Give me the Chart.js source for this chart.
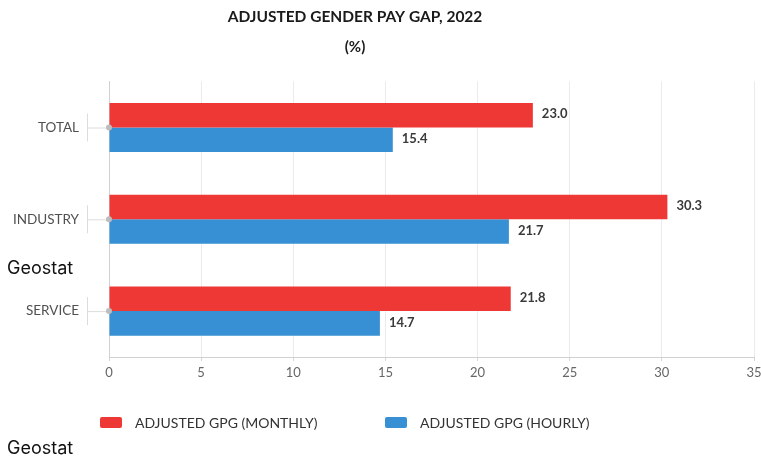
<!DOCTYPE html>
<html>
<head>
<meta charset="utf-8">
<script src="https://cdn.jsdelivr.net/npm/chart.js@4.4.1/dist/chart.umd.min.js"></script>
<style>
  html, body { margin: 0; padding: 0; background: #fff; }
  .wrap { position: relative; width: 761px; height: 462px; }
  #gpg-chart { position: absolute; left: 0; top: 0; }
  .note { position: absolute; font-family: Inter, sans-serif; font-size: 18px; color: #111; }
  #legend { position: absolute; top: 414px; left: 0; width: 761px; height: 16px; font-family: Lato, sans-serif; font-size: 14px; color: #333; }
  #legend .item { position: absolute; top: 0; display: flex; align-items: center; height: 16px; }
  #legend .box { width: 22px; height: 11px; border-radius: 2px; margin-right: 13px; }
</style>
</head>
<body>
<div class="wrap">
  <canvas id="gpg-chart" width="761" height="462"></canvas>
  <div id="legend"></div>
  <div class="note" style="left:7px; top:257px;">Geostat</div>
  <div class="note" style="left:7px; top:437px;">Geostat</div>
</div>
<script>
// data
const categories = ['TOTAL', 'INDUSTRY', 'SERVICE'];
const monthlyGap = [23.0, 30.3, 21.8];
const hourlyGap = [15.4, 21.7, 14.7];
const seriesNames = ['ADJUSTED GPG (MONTHLY)', 'ADJUSTED GPG (HOURLY)'];
const seriesColors = ['#ee3835', '#3690d3'];

// value labels at the end of each bar
const barLabels = {
    id: 'barLabels',
    afterDatasetsDraw(chart) {
        const ctx = chart.ctx;
        ctx.save();
        ctx.font = 'bold 13px Lato';
        ctx.fillStyle = '#3a3a3a';
        ctx.textBaseline = 'middle';
        ctx.textAlign = 'left';
        chart.data.datasets.forEach((ds, i) => {
            chart.getDatasetMeta(i).data.forEach((bar, j) => {
                ctx.fillText(ds.data[j].toFixed(1), bar.x + 9, bar.y - 1);
            });
        });
        ctx.restore();
    }
};

// little bracket + dot on the y axis for each category
const yTicks = {
    id: 'yTicks',
    afterDraw(chart) {
        const ctx = chart.ctx;
        const y = chart.scales.y;
        const left = chart.chartArea.left;
        ctx.save();
        y.ticks.forEach((t, i) => {
            const py = y.getPixelForTick(i);
            ctx.strokeStyle = '#dcdcdc';
            ctx.lineWidth = 1;
            ctx.beginPath();
            ctx.moveTo(87.5, py - 14);
            ctx.lineTo(87.5, py + 14);
            ctx.moveTo(87.5, py + 0.5);
            ctx.lineTo(left, py + 0.5);
            ctx.stroke();
            ctx.fillStyle = '#bdbdbd';
            ctx.beginPath();
            ctx.arc(left, py, 3, 0, Math.PI * 2);
            ctx.fill();
        });
        ctx.restore();
    }
};

// the original title sits a bit left of the canvas centre
const shiftTitle = {
    id: 'shiftTitle',
    afterLayout(chart) {
        chart.boxes.forEach(b => {
            if (b.options && b.options.text && b.position === 'top') {
                b.left = 0;
                b.right = 710;
            }
        });
    }
};

const chart = new Chart(document.getElementById('gpg-chart'), {
    type: 'bar',
    data: {
        labels: categories,
        datasets: [{
            label: seriesNames[0],
            data: monthlyGap,
            backgroundColor: seriesColors[0]
        }, {
            label: seriesNames[1],
            data: hourlyGap,
            backgroundColor: seriesColors[1]
        }]
    },
    options: {
        indexAxis: 'y',
        responsive: false,
        animation: false,
        categoryPercentage: 0.535,
        barPercentage: 1.0,
        layout: { padding: { left: 0, right: 7, top: 0, bottom: 80 } },
        plugins: {
            legend: { display: false },
            tooltip: { enabled: false },
            title: {
                display: true,
                text: 'ADJUSTED GENDER PAY GAP, 2022',
                color: '#1a1a1a',
                font: { family: 'Lato', size: 15.5, weight: 'bold' },
                padding: { top: 8, bottom: 12 }
            },
            subtitle: {
                display: true,
                text: '(%)',
                color: '#1a1a1a',
                font: { family: 'Lato', size: 15, weight: 'bold' },
                padding: { top: 0, bottom: 25 }
            }
        },
        scales: {
            x: {
                min: 0,
                max: 35,
                ticks: { stepSize: 5, color: '#666', font: { family: 'Lato', size: 13 }, padding: 4 },
                grid: { color: '#ebebeb', tickLength: 4, tickColor: '#d5d5d5' },
                border: { color: '#d0d0d0' },
                afterFit(scale) {
                    scale.height = 25;
                    scale.paddingRight = 0;
                    scale.paddingLeft = 0;
                }
            },
            y: {
                ticks: { color: '#505050', font: { family: 'Lato', size: 13.5 }, padding: 30 },
                grid: { display: false, drawTicks: false },
                border: { color: '#d0d0d0' },
                afterFit(scale) {
                    scale.width = 109;
                }
            }
        }
    },
    plugins: [barLabels, yTicks, shiftTitle]
});

// legend in html so the spacing matches
const legendEl = document.getElementById('legend');
const legendLeft = [100, 385];
chart.data.datasets.forEach((ds, i) => {
    const item = document.createElement('div');
    item.className = 'item';
    item.style.left = legendLeft[i] + 'px';
    item.innerHTML = '<span class="box" style="background:' + ds.backgroundColor + '"></span>' + ds.label;
    legendEl.appendChild(item);
});
</script>
</body>
</html>
